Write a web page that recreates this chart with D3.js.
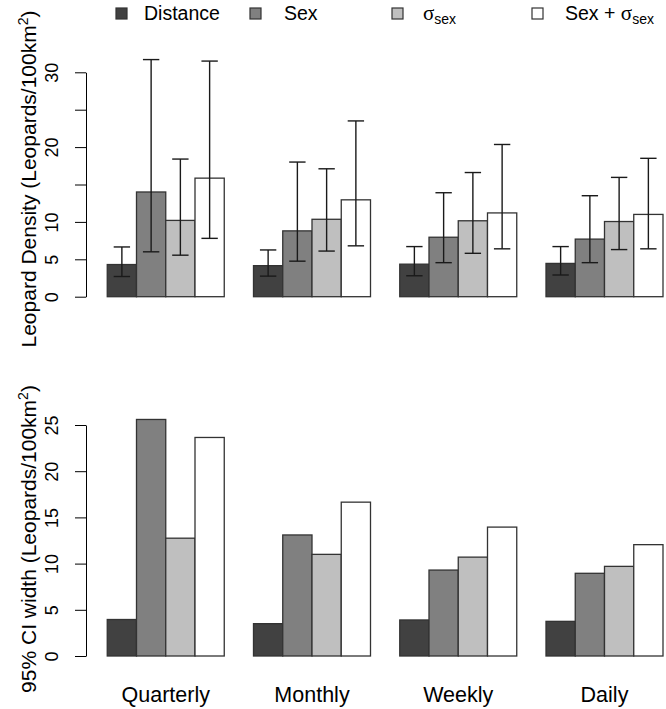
<!DOCTYPE html>
<html>
<head>
<meta charset="utf-8">
<script src="https://cdn.jsdelivr.net/npm/d3@7"></script>
<style>
  html, body { margin: 0; padding: 0; background: #fff; }
  svg { display: block; font-family: "Liberation Sans", Arial, Helvetica, sans-serif; }
</style>
</head>
<body>
<svg id="chart" width="666" height="709"></svg>
<script>
// ---- Data ----
const categories = ["Quarterly", "Monthly", "Weekly", "Daily"];
const models = ["Distance", "Sex", "σsex", "Sex + σsex"];
const modelColors = ["#414141", "#808080", "#bfbfbf", "#ffffff"];

// Density estimates (Leopards/100km2), per model, per category
const densDistance = [4.3, 4.15, 4.35, 4.45];
const densSex      = [14.0, 8.8, 7.95, 7.7];
const densSigma    = [10.2, 10.35, 10.15, 10.05];
const densSexSigma = [15.85, 12.95, 11.2, 11.0];

// Lower 95% CI
const lowDistance = [2.7, 2.75, 2.8, 2.9];
const lowSex      = [6.0, 4.75, 4.55, 4.55];
const lowSigma    = [5.55, 6.1, 5.8, 6.3];
const lowSexSigma = [7.8, 6.8, 6.4, 6.4];

// Upper 95% CI
const upDistance = [6.65, 6.25, 6.7, 6.7];
const upSex      = [31.7, 18.0, 13.9, 13.5];
const upSigma    = [18.4, 17.1, 16.6, 15.95];
const upSexSigma = [31.5, 23.5, 20.35, 18.5];

// 95% CI width
const ciwDistance = [3.95, 3.5, 3.9, 3.75];
const ciwSex      = [25.6, 13.1, 9.3, 8.95];
const ciwSigma    = [12.75, 11.0, 10.7, 9.7];
const ciwSexSigma = [23.65, 16.65, 13.95, 12.05];

const topTicks = [0, 5, 10, 15, 20, 25, 30];
const topTickLabels = [0, 5, 10, 20, 30];
const bottomTicks = [0, 5, 10, 15, 20, 25];

const densSeries = [densDistance, densSex, densSigma, densSexSigma];
const lowSeries = [lowDistance, lowSex, lowSigma, lowSexSigma];
const upSeries = [upDistance, upSex, upSigma, upSexSigma];
const ciwSeries = [ciwDistance, ciwSex, ciwSigma, ciwSexSigma];

// ---- Layout ----
const svg = d3.select("#chart");
const axisX = 86;

// x in "bar units": each bar 1 unit wide, 1-unit gap before each group
const x = d3.scaleLinear().domain([0, 20]).range([78, 663]);
const yTop = d3.scaleLinear().domain([0, 30]).range([296.7, 72.3]);
const yBot = d3.scaleLinear().domain([0, 25]).range([656, 425]);

function rows(values) {
  const out = [];
  categories.forEach((c, i) => {
    models.forEach((m, j) => {
      out.push({ i, j, left: 1 + i * 5 + j, v: values[j][i] });
    });
  });
  return out;
}

function drawBars(g, y, values) {
  g.selectAll("rect.bar").data(rows(values)).enter().append("rect")
    .attr("class", "bar")
    .attr("x", d => x(d.left))
    .attr("width", d => x(d.left + 1) - x(d.left))
    .attr("y", d => y(d.v))
    .attr("height", d => y(0) - y(d.v))
    .attr("fill", d => modelColors[d.j])
    .attr("stroke", "#333")
    .attr("stroke-width", 1.3);
}

function drawAxis(y, ticks, labels) {
  const ax = d3.axisLeft(y)
    .tickValues(ticks)
    .tickSizeInner(11)
    .tickSizeOuter(0)
    .tickPadding(0)
    .tickFormat(v => labels.includes(v) ? String(v) : "");
  const g = svg.append("g").attr("transform", `translate(${axisX},0)`).call(ax);
  g.select(".domain").attr("stroke", "#000").attr("stroke-width", 1);
  g.selectAll(".tick line").attr("stroke", "#000").attr("stroke-width", 1);
  g.selectAll(".tick text")
    .attr("transform", "rotate(-90)")
    .attr("x", 0).attr("y", -28).attr("dy", 0)
    .attr("text-anchor", "middle")
    .attr("fill", "#000")
    .style("font-size", "18px")
    .style("font-family", '"Liberation Sans", Arial, sans-serif');
  return g;
}

// ---- Top panel ----
const gTop = svg.append("g");
drawBars(gTop, yTop, densSeries);

// error bars
const eb = [];
categories.forEach((c, i) => models.forEach((m, j) => {
  eb.push({ cx: 1 + i * 5 + j + 0.5, lo: lowSeries[j][i], hi: upSeries[j][i] });
}));
const capHalf = 0.28;
const ebG = gTop.append("g").attr("stroke", "#1a1a1a").attr("stroke-width", 1.4);
ebG.selectAll("line.v").data(eb).enter().append("line")
  .attr("x1", d => x(d.cx)).attr("x2", d => x(d.cx))
  .attr("y1", d => yTop(d.lo)).attr("y2", d => yTop(d.hi));
ebG.selectAll("line.hi").data(eb).enter().append("line")
  .attr("x1", d => x(d.cx - capHalf)).attr("x2", d => x(d.cx + capHalf))
  .attr("y1", d => yTop(d.hi)).attr("y2", d => yTop(d.hi));
ebG.selectAll("line.lo").data(eb).enter().append("line")
  .attr("x1", d => x(d.cx - capHalf)).attr("x2", d => x(d.cx + capHalf))
  .attr("y1", d => yTop(d.lo)).attr("y2", d => yTop(d.lo));

drawAxis(yTop, topTicks, topTickLabels);

// ---- Bottom panel ----
const gBot = svg.append("g");
drawBars(gBot, yBot, ciwSeries);
drawAxis(yBot, bottomTicks, bottomTicks);

// ---- Y titles ----
function yTitle(cy, prefix) {
  const t = svg.append("text")
    .attr("transform", `translate(36,${cy}) rotate(-90)`)
    .attr("text-anchor", "middle")
    .style("font-size", "21px")
    .attr("fill", "#000");
  t.append("tspan").text(prefix + " (Leopards/100km");
  t.append("tspan").attr("dy", -8).style("font-size", "14px").text("2");
  t.append("tspan").attr("dy", 8).text(")");
}
yTitle(179, "Leopard Density");
yTitle(539, "95% CI width");

// ---- X category labels ----
svg.append("g").selectAll("text").data(categories).enter().append("text")
  .attr("x", (d, i) => x(3 + i * 5))
  .attr("y", 702)
  .attr("text-anchor", "middle")
  .style("font-size", "21.5px")
  .attr("fill", "#000")
  .text(d => d);

// ---- Legend ----
const legendSquareX = [116, 250, 392, 532];
const legendTextX = [144, 284, 423, 565];
const lg = svg.append("g");
models.forEach((m, j) => {
  lg.append("rect")
    .attr("x", legendSquareX[j]).attr("y", 8)
    .attr("width", 11).attr("height", 11)
    .attr("fill", modelColors[j]).attr("stroke", "#333").attr("stroke-width", 1.2);
  const t = lg.append("text").attr("x", legendTextX[j]).attr("y", 20)
    .style("font-size", "19.5px").attr("fill", "#000");
  if (m === "σsex") {
    t.append("tspan").style("font-family", '"Liberation Serif", "DejaVu Serif", serif').style("font-size", "21px").text("σ");
    t.append("tspan").attr("dy", 4).style("font-size", "14px").text("sex");
  } else if (m === "Sex + σsex") {
    t.append("tspan").text("Sex + ");
    t.append("tspan").style("font-family", '"Liberation Serif", "DejaVu Serif", serif').style("font-size", "21px").text("σ");
    t.append("tspan").attr("dy", 4).style("font-size", "14px").text("sex");
  } else {
    t.text(m);
  }
});
</script>
</body>
</html>
